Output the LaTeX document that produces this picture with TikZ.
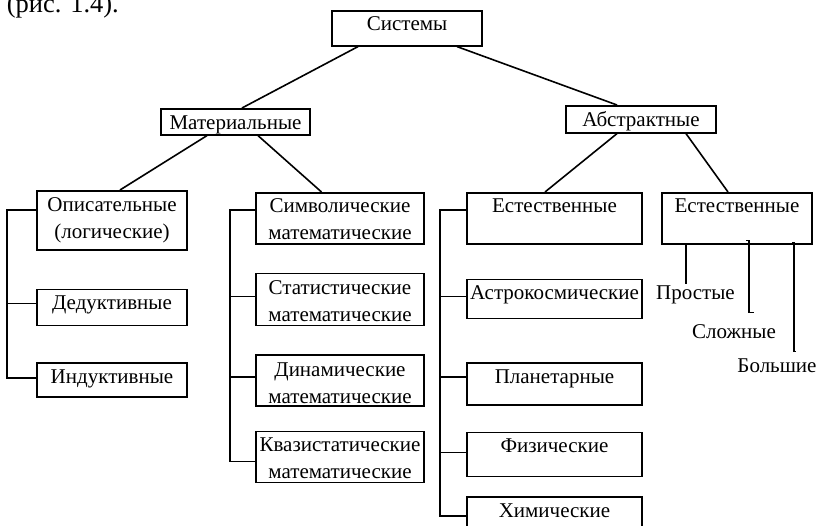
\documentclass[tikz,border=0pt]{standalone}
\usepackage{fontspec}
\setmainfont{Liberation Serif}
\usetikzlibrary{positioning,calc}

\begin{document}
\begin{tikzpicture}[
  x=1pt, y=-1pt,
  line width=1.6pt,
  every node/.style={font=\fontsize{21}{27}\selectfont},
  box/.style={draw, inner sep=0pt, text width=#1, align=center, text height=20pt},
  lbl/.style={inner sep=0pt, anchor=base}
]
  \useasboundingbox (0,0) rectangle (819,525);

  \node[lbl, anchor=base west, font=\fontsize{26.5}{30}\selectfont] (ref) at (6,12.5) {(рис. 1.4).};

  \node[box=150pt, text depth=15pt, anchor=north] (sys) at (407,10) {Системы};
  \node[box=149pt, text height=21pt, text depth=5pt, anchor=north] (mat) at (235.5,108) {Материальные};
  \node[box=150pt, text height=21pt, text depth=6pt, anchor=north] (abs) at (641,105) {Абстрактные};

  \node[box=150pt, text height=21pt, text depth=38pt, anchor=north] (op) at (112,190) {Описательные\\(логические)};
  \node[box=150pt, text depth=16pt, below=38pt of op] (ded) {Дедуктивные};
  \node[box=150pt, text depth=14pt, below=36pt of ded] (ind) {Индуктивные};

  \node[box=168pt, text depth=31pt, anchor=north] (sym) at (340,192) {Символические\\математические};
  \node[box=168pt, text height=21pt, text depth=31pt, below=28pt of sym] (stat) {Статистические\\математические};
  \node[box=168pt, text height=21pt, text depth=30pt, below=28pt of stat] (dyn) {Динамические\\математические};
  \node[box=168pt, text depth=31pt, below=24pt of dyn] (quasi) {Квазистатические\\математические};

  \node[box=175pt, text depth=31pt, anchor=north] (est) at (554.5,192) {Естественные};
  \node[box=175pt, text depth=19pt, below=34pt of est] (astro) {Астрокосмические};
  \node[box=175pt, text depth=22pt, below=43pt of astro] (plan) {Планетарные};
  \node[box=175pt, text depth=24pt, below=26pt of plan] (fiz) {Физические};
  \node[box=175pt, text depth=24pt, below=19pt of fiz] (him) {Химические};

  \node[box=150pt, text depth=31pt, anchor=north] (estb) at (737,192) {Естественные};
  \node[lbl] (prost) at (695.5,299) {Простые};
  \node[lbl] (slozh) at (734,338) {Сложные};
  \node[lbl] (bolsh) at (777,372) {Большие};

  \draw ($(sys.south)+(-49,0)$) -- ($(mat.north)+(6.5,0)$);
  \draw ($(sys.south)+(50,0)$) -- ($(abs.north)+(-24,0)$);
  \draw ($(mat.south)+(-28.5,0)$) -- ($(op.north)+(8,0)$);
  \draw ($(mat.south)+(22.5,0)$) -- ($(sym.north)+(-18.5,0)$);
  \draw ($(abs.south)+(-24,0)$) -- ($(est.north)+(-9.5,0)$);
  \draw ($(abs.south)+(45,0)$) -- ($(estb.north)+(-9,0)$);

  \draw ($(op.west)+(0,-10.5)$) -- ++(-29,0) |- ($(ind.west)+(0,-2)$);
  \draw ($(ded.west)+(0,-4)$) -- ++(-29,0);

  \draw ($(sym.west)+(0,-8.5)$) -- ++(-25,0) |- ($(quasi.west)+(0,4.5)$);
  \draw ($(stat.west)+(0,-3)$) -- ++(-25,0);
  \draw ($(dyn.west)+(0,-3.5)$) -- ++(-25,0);

  \draw ($(est.west)+(0,-8.5)$) -- ++(-26,0) |- ($(him.west)+(0,-3)$);
  \draw ($(astro.west)+(0,-2.5)$) -- ++(-26,0);
  \draw ($(plan.west)+(0,-7)$) -- ++(-26,0);
  \draw ($(fiz.west)+(0,-2)$) -- ++(-26,0);

  \draw ($(estb.south west)+(25,0)$) coordinate (p1) -- (p1 |- prost.north);
  \draw ($(estb.south west)+(85,-4)$) -- ++(3,0) -- ++(0,72) -- ++(5,0);
  \draw ($(estb.south west)+(131,-2)$) -- ++(2,0) -- ++(0,109) -- ++(2,0);
\end{tikzpicture}
\end{document}
